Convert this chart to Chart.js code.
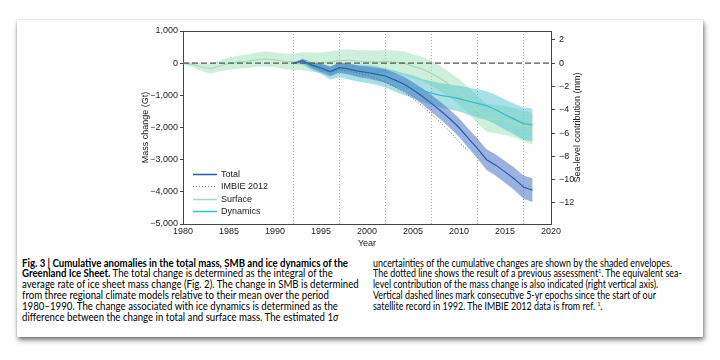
<!DOCTYPE html>
<html>
<head>
<meta charset="utf-8">
<script src="https://cdn.jsdelivr.net/npm/chart.js@4.4.1/dist/chart.umd.min.js"></script>
<style>
  html, body { margin: 0; padding: 0; background: #fff; }
  body { width: 720px; height: 360px; position: relative; overflow: hidden; }
  .card {
    position: absolute; left: 17px; top: 20px; width: 686px; height: 317px;
    background: #fff;
    box-shadow: 1px 3px 5px rgba(0,0,0,0.55), 0 0 1px rgba(0,0,0,0.3);
  }
  #chartBox { position: absolute; left: 0; top: 0; width: 686px; height: 229px; }
  .col {
    position: absolute; top: 237.5px;
    font-family: "Liberation Sans Narrow", Lato, "Liberation Sans", sans-serif;
    font-size: 10.5px; line-height: 10.9px; color: #000;
    white-space: nowrap; transform-origin: 0 0;
  }
  #capLeft { left: 5px; }
  #capRight { left: 356px; }
  .col b { font-weight: bold; }
  sup { font-size: 6px; vertical-align: 4px; line-height: 0; }
</style>
</head>
<body>
<div class="card">
  <div id="chartBox"><canvas id="massChart"></canvas></div>
  <div class="col" id="capLeft">
    <div><b>Fig. 3 | Cumulative anomalies in the total mass, SMB and ice dynamics of the</b></div>
    <div><b>Greenland Ice Sheet.</b> The total change is determined as the integral of the</div>
    <div>average rate of ice sheet mass change (Fig. 2). The change in SMB is determined</div>
    <div>from three regional climate models relative to their mean over the period</div>
    <div>1980–1990. The change associated with ice dynamics is determined as the</div>
    <div>difference between the change in total and surface mass. The estimated 1<i>σ</i></div>
  </div>
  <div class="col" id="capRight">
    <div>uncertainties of the cumulative changes are shown by the shaded envelopes.</div>
    <div>The dotted line shows the result of a previous assessment<sup>1</sup>. The equivalent sea-</div>
    <div>level contribution of the mass change is also indicated (right vertical axis).</div>
    <div>Vertical dashed lines mark consecutive 5-yr epochs since the start of our</div>
    <div>satellite record in 1992. The IMBIE 2012 data is from ref. <sup>1</sup>.</div>
  </div>
</div>
<script>
// cumulative mass anomalies (Gt)
const surfaceYears = [1980,1981,1982,1983,1984,1985,1986,1987,1988,1989,1990,1991,1992,1993,1994,1995,1996,1997,1998,1999,2000,2001,2002,2003,2004,2005,2006,2007,2008,2009,2010,2011,2012,2013,2014,2015,2016,2017,2018];
const surfaceMass = [0,-40,-120,-170,-80,-10,30,60,110,130,100,60,40,60,30,20,40,80,90,60,50,40,60,30,0,-100,-180,-320,-480,-680,-900,-1150,-1450,-1700,-1740,-1780,-1850,-1950,-2050];
const surfaceErr = [30,80,120,150,170,190,200,210,220,230,230,240,250,280,300,310,320,330,340,340,350,350,360,360,370,370,380,380,390,390,400,410,420,430,440,450,460,480,490];

const totalYears = [1992,1993,1994,1995,1996,1997,1998,1999,2000,2001,2002,2003,2004,2005,2006,2007,2008,2009,2010,2011,2012,2013,2014,2015,2016,2017,2018];
const totalMass = [0,80,-60,-150,-260,-140,-180,-250,-290,-340,-400,-520,-650,-830,-1030,-1250,-1480,-1730,-2000,-2330,-2650,-3000,-3170,-3380,-3590,-3850,-3950];
const totalErr = [10,60,100,130,150,160,170,180,190,200,210,220,230,240,250,260,270,280,290,300,310,320,330,340,350,360,370];

const dynamicsMass = [0,30,-90,-170,-300,-220,-270,-310,-340,-380,-460,-550,-650,-730,-850,-930,-1000,-1050,-1100,-1180,-1250,-1320,-1450,-1600,-1740,-1880,-1920];
const dynamicsErr = [20,80,130,170,200,220,240,260,280,290,300,320,340,350,360,370,380,390,400,420,440,450,460,470,480,500,510];

const imbieYears = [1992,1993,1994,1995,1996,1997,1998,1999,2000,2001,2002,2003,2004,2005,2006,2007,2008,2009,2010,2011];
const imbieMass = [0,50,-80,-180,-300,-200,-240,-300,-380,-470,-600,-740,-900,-1100,-1330,-1580,-1850,-2130,-2450,-2720];

const epochYears = [1992,1997,2002,2007,2012,2017];
const zeroLine = [1980,2020];
const gtPerMm = 362;

const pts = (xs, ys) => xs.map((x, i) => ({x: x, y: ys[i]}));
const band = (xs, ys, err, sign) => xs.map((x, i) => ({x: x, y: ys[i] + sign * err[i]}));

const C = {
  total: '#2a5cae', totalBand: 'rgba(62,108,190,0.52)',
  dyn: '#3bbccb', dynBand: 'rgba(80,195,205,0.50)',
  surf: '#a3dcb5', surfBand: 'rgba(165,225,190,0.55)',
  imbie: '#666', axis: '#444', text: '#222'
};

const fmtGt = v => (v < 0 ? '\u2212' : '') + Math.abs(v).toLocaleString('en-US');
const fmtMm = v => (v < 0 ? '\u2212' : '') + Math.abs(v);

const legendItems = [
  {label: 'Total', color: C.total, dash: []},
  {label: 'IMBIE 2012', color: '#777', dash: [1, 2]},
  {label: 'Surface', color: C.surf, dash: []},
  {label: 'Dynamics', color: C.dyn, dash: []}
];

const overlay = {
  id: 'overlay',
  beforeDatasetsDraw(chart) {
    const {ctx, chartArea: a, scales} = chart;
    ctx.save();
    ctx.strokeStyle = '#b0b0b0';
    ctx.lineWidth = 1;
    ctx.setLineDash([1, 2]);
    epochYears.forEach(yr => {
      const px = Math.round(scales.x.getPixelForValue(yr)) + 0.5;
      ctx.beginPath(); ctx.moveTo(px, a.top); ctx.lineTo(px, a.bottom); ctx.stroke();
    });
    ctx.restore();
  },
  afterDraw(chart) {
    const {ctx, chartArea: a, scales} = chart;
    ctx.save();
    // frame
    ctx.strokeStyle = C.axis;
    ctx.lineWidth = 1;
    ctx.beginPath();
    ctx.moveTo(a.left, Math.round(a.top) + 0.5);
    ctx.lineTo(a.right, Math.round(a.top) + 0.5);
    ctx.stroke();
    // legend
    ctx.font = '9px "Liberation Sans", Arial, sans-serif';
    ctx.textBaseline = 'middle';
    ctx.fillStyle = C.text;
    legendItems.forEach((it, i) => {
      const y = Math.round(a.bottom - 50 + i * 12.4) + 0.5;
      ctx.strokeStyle = it.color;
      ctx.lineWidth = it.dash.length ? 1 : 1.5;
      ctx.setLineDash(it.dash);
      ctx.beginPath(); ctx.moveTo(a.left + 10, y); ctx.lineTo(a.left + 34, y); ctx.stroke();
      ctx.fillText(it.label, a.left + 38, y);
    });
    // right axis title, reading upwards
    ctx.setLineDash([]);
    ctx.translate(scales.yR.left + 27, (a.top + a.bottom) / 2);
    ctx.rotate(-Math.PI / 2);
    ctx.textAlign = 'center';
    ctx.fillText('Sea-level contribution (mm)', 0, 0);
    ctx.restore();
  }
};

const tickFont = {family: '"Liberation Sans", Arial, sans-serif', size: 9};

new Chart(document.getElementById('massChart'), {
  type: 'line',
  data: {
    datasets: [
      {label: 'IMBIE 2012', data: pts(imbieYears, imbieMass), borderColor: C.imbie, borderWidth: 1, borderDash: [1, 2], order: 0},
      {label: 'Total', data: pts(totalYears, totalMass), borderColor: C.total, borderWidth: 1.2, order: 1},
      {label: 'zero', data: pts(zeroLine, [0, 0]), borderColor: '#555', borderWidth: 1.4, borderDash: [6, 3], order: 2},
      {label: 'Dynamics', data: pts(totalYears, dynamicsMass), borderColor: C.dyn, borderWidth: 1.2, order: 3},
      {label: 'Surface', data: pts(surfaceYears, surfaceMass), borderColor: C.surf, borderWidth: 1.2, order: 4},
      {label: 'total hi', data: band(totalYears, totalMass, totalErr, 1), borderWidth: 0, backgroundColor: C.totalBand, fill: '+1', order: 5},
      {label: 'total lo', data: band(totalYears, totalMass, totalErr, -1), borderWidth: 0, order: 5},
      {label: 'dyn hi', data: band(totalYears, dynamicsMass, dynamicsErr, 1), borderWidth: 0, backgroundColor: C.dynBand, fill: '+1', order: 6},
      {label: 'dyn lo', data: band(totalYears, dynamicsMass, dynamicsErr, -1), borderWidth: 0, order: 6},
      {label: 'surf hi', data: band(surfaceYears, surfaceMass, surfaceErr, 1), borderWidth: 0, backgroundColor: C.surfBand, fill: '+1', order: 7},
      {label: 'surf lo', data: band(surfaceYears, surfaceMass, surfaceErr, -1), borderWidth: 0, order: 7}
    ]
  },
  options: {
    responsive: true,
    maintainAspectRatio: false,
    animation: false,
    elements: {point: {radius: 0, hoverRadius: 0}, line: {tension: 0}},
    layout: {padding: {left: 123, right: 120, top: 11, bottom: 0}},
    plugins: {legend: {display: false}, tooltip: {enabled: false}},
    scales: {
      x: {
        type: 'linear', min: 1980, max: 2020,
        grid: {display: true, drawOnChartArea: false, drawTicks: false},
        border: {display: true, color: C.axis},
        ticks: {stepSize: 5, padding: 2, color: C.text, font: tickFont, callback: v => String(v), maxRotation: 0},
        title: {display: true, text: 'Year', color: C.text, font: tickFont, padding: 0},
        afterFit: s => { s.height = 25; }
      },
      y: {
        position: 'left', min: -5000, max: 1000,
        grid: {drawOnChartArea: false, tickLength: 3, tickColor: C.axis},
        border: {display: true, color: C.axis},
        ticks: {stepSize: 1000, padding: 2, color: C.text, font: tickFont, callback: fmtGt},
        title: {display: true, text: 'Mass change (Gt)', color: C.text, font: tickFont, padding: 0},
        afterFit: s => { s.width = 43; }
      },
      yR: {
        position: 'right', min: -5000 / gtPerMm, max: 1000 / gtPerMm,
        grid: {drawOnChartArea: false, tickLength: 4, tickColor: C.axis},
        border: {display: true, color: C.axis},
        ticks: {stepSize: 2, includeBounds: false, padding: 4, color: C.text, font: tickFont, callback: fmtMm},
        afterFit: s => { s.width = 32; }
      }
    }
  },
  plugins: [overlay]
});

// squeeze each caption column so its first line spans the printed width
function fitColumn(id, target) {
  const col = document.getElementById(id);
  const first = col.firstElementChild;
  const range = document.createRange();
  range.selectNodeContents(first);
  const w = range.getBoundingClientRect().width;
  col.style.transform = 'scaleX(' + (target / w) + ')';
}
fitColumn('capLeft', 326);
fitColumn('capRight', 299);
</script>
</body>
</html>
